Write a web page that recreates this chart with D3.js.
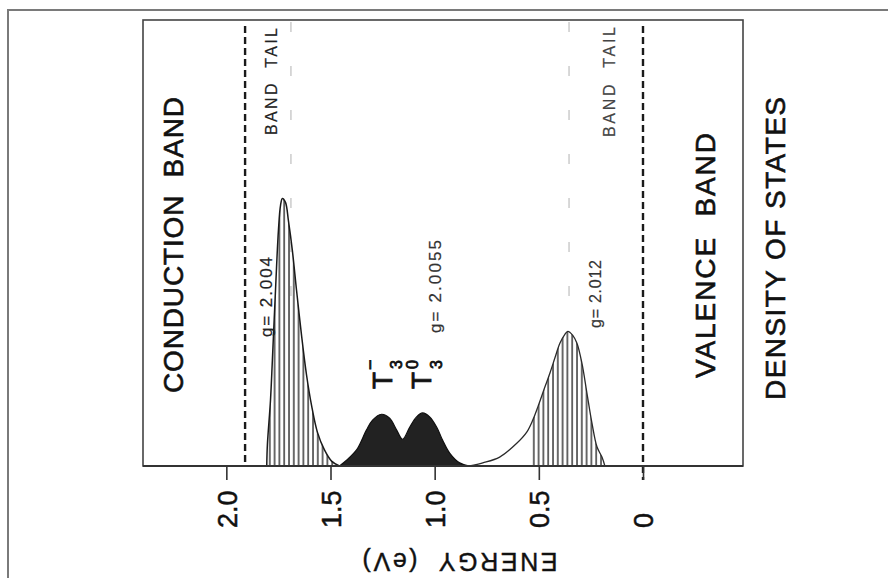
<!DOCTYPE html>
<html>
<head>
<meta charset="utf-8">
<script src="https://cdnjs.cloudflare.com/ajax/libs/d3/7.8.5/d3.min.js"></script>
<style>
  body { margin: 0; background: #fff; }
  svg { display: block; }
  text { font-family: "Liberation Sans", Arial, sans-serif; white-space: pre; }
</style>
</head>
<body>
<svg id="chart" width="888" height="578"></svg>
<script>
// energy axis ticks (eV)
var tickValues = [2.0, 1.5, 1.0, 0.5, 0]
var tickLabels = ["2.0", "1.5", "1.0", "0.5", "0"]

// band edges (thick dashed) and band tail guides (faint), eV
var bandEdges = [1.91, 0]
var tailGuides = [1.69, 0.355]

// conduction band tail states, g=2.004  (energy eV, density arb. units)
var condE = [1.806, 1.803, 1.788, 1.779, 1.764, 1.750, 1.740, 1.731, 1.716, 1.702, 1.683, 1.663, 1.639, 1.615, 1.591, 1.563, 1.529, 1.495, 1.457]
var condD = [0, 0.47, 1.48, 2.37, 3.94, 5.28, 5.84, 6.00, 5.91, 5.50, 4.83, 3.94, 2.93, 2.04, 1.36, 0.76, 0.36, 0.11, 0]

// T3- / T3 0 defect states, g=2.0055
var trapE = [1.457, 1.423, 1.375, 1.327, 1.298, 1.255, 1.216, 1.183, 1.154, 1.120, 1.087, 1.058, 1.024, 0.990, 0.962, 0.928, 0.880, 0.832]
var trapD = [0, 0.13, 0.36, 0.81, 1.03, 1.16, 1.07, 0.81, 0.60, 0.87, 1.10, 1.19, 1.10, 0.87, 0.58, 0.29, 0.07, 0]

// valence band tail states, g=2.012
var valE = [0.832, 0.769, 0.688, 0.606, 0.558, 0.529, 0.505, 0.471, 0.447, 0.423, 0.399, 0.375, 0.361, 0.337, 0.317, 0.293, 0.269, 0.245, 0.221, 0.197, 0.183]
var valD = [0, 0.07, 0.20, 0.51, 0.76, 1.03, 1.32, 1.77, 2.08, 2.42, 2.75, 2.95, 3.02, 2.93, 2.75, 2.30, 1.63, 0.96, 0.43, 0.20, 0]
var valHatchFrom = 0.54

var svg = d3.select("#chart")

var x = d3.scaleLinear().domain([2.4, -0.48]).range([143, 743])
var y = d3.scaleLinear().domain([0, 10]).range([466, 20])

function pts(es, ds) {
    return es.map(function (e, i) { return { e: e, d: ds[i] } })
}

// hatch pattern
var defs = svg.append("defs")
var pat = defs.append("pattern")
    .attr("id", "vhatch")
    .attr("patternUnits", "userSpaceOnUse")
    .attr("width", 4.8).attr("height", 20)
pat.append("line")
    .attr("x1", 1).attr("x2", 1).attr("y1", 0).attr("y2", 20)
    .attr("stroke", "#1a1a1a").attr("stroke-width", 1.3)

defs.append("clipPath").attr("id", "valclip")
    .append("rect")
    .attr("x", x(valHatchFrom)).attr("y", 0)
    .attr("width", 743 - x(valHatchFrom)).attr("height", 578)

// outer scan frame
svg.append("path")
    .attr("d", "M8,578V10H888")
    .attr("fill", "none").attr("stroke", "#7a7a7a").attr("stroke-width", 2)

// plot box
svg.append("rect")
    .attr("x", 143).attr("y", 20).attr("width", 600).attr("height", 446)
    .attr("fill", "none").attr("stroke", "#444").attr("stroke-width", 1.6)

var area = d3.area()
    .x(function (d) { return x(d.e) })
    .y0(y(0))
    .y1(function (d) { return y(d.d) })
    .curve(d3.curveCatmullRom.alpha(0.5))
var line = d3.line()
    .x(function (d) { return x(d.e) })
    .y(function (d) { return y(d.d) })
    .curve(d3.curveCatmullRom.alpha(0.5))

// faint band tail guides
svg.selectAll(".guide")
    .data(tailGuides)
    .enter().append("line")
    .attr("class", "guide")
    .attr("x1", function (d) { return x(d) }).attr("x2", function (d) { return x(d) })
    .attr("y1", 22).attr("y2", 330)
    .attr("stroke", "#cfcfcf").attr("stroke-width", 1.6)
    .attr("stroke-dasharray", "10 34")

// conduction band tail
var cond = pts(condE, condD)
svg.append("path").datum(cond).attr("d", area).attr("fill", "url(#vhatch)")
svg.append("path").datum(cond).attr("d", line)
    .attr("fill", "none").attr("stroke", "#1a1a1a").attr("stroke-width", 1.5)

// defect states
var trap = pts(trapE, trapD)
svg.append("path").datum(trap).attr("d", area)
    .attr("fill", "#222").attr("stroke", "#111").attr("stroke-width", 1.2)

// valence band tail
var val = pts(valE, valD)
svg.append("path").datum(val).attr("d", area)
    .attr("fill", "url(#vhatch)").attr("clip-path", "url(#valclip)")
svg.append("path").datum(val).attr("d", line)
    .attr("fill", "none").attr("stroke", "#2a2a2a").attr("stroke-width", 1.3)

// band edges
svg.selectAll(".edge")
    .data(bandEdges)
    .enter().append("line")
    .attr("class", "edge")
    .attr("x1", function (d) { return x(d) }).attr("x2", function (d) { return x(d) })
    .attr("y1", 26).attr("y2", function (d, i) { return i === 1 ? 480 : 466 })
    .attr("stroke", "#1a1a1a").attr("stroke-width", 2.4)
    .attr("stroke-dasharray", "7 4")

// baseline
svg.append("line")
    .attr("x1", 143).attr("x2", 743).attr("y1", 466).attr("y2", 466)
    .attr("stroke", "#333").attr("stroke-width", 2)

// energy axis
var axis = svg.append("g")
    .attr("transform", "translate(0,466)")
    .call(d3.axisBottom(x)
        .tickValues(tickValues)
        .tickSize(14)
        .tickFormat(function (d, i) { return tickLabels[i] }))
axis.select(".domain").remove()
axis.selectAll(".tick line").attr("stroke", "#333").attr("stroke-width", 1.6)
axis.selectAll(".tick text")
    .attr("transform", "rotate(-90)")
    .attr("x", -62).attr("y", 0).attr("dy", "0.36em")
    .attr("text-anchor", "start")
    .attr("font-size", 27).attr("font-family", "Liberation Sans, Arial, sans-serif")
    .attr("fill", "#111").attr("stroke", "#111").attr("stroke-width", 0.5)

// rotated labels
function vlabel(txt, bx, by, size, len, color, sw) {
    svg.append("text")
        .attr("transform", "translate(" + bx + "," + by + ") rotate(-90)")
        .attr("font-size", size)
        .attr("fill", color || "#111")
        .attr("stroke", color || "#111").attr("stroke-width", sw || 0)
        .attr("textLength", len).attr("lengthAdjust", "spacing")
        .text(txt)
}
vlabel("CONDUCTION  BAND", 183, 393, 28, 296, "#111", 0.6)
vlabel("VALENCE  BAND", 715, 378, 28, 245, "#111", 0.6)
vlabel("DENSITY OF STATES", 785, 400, 28, 303, "#111", 0.6)
vlabel("BAND  TAIL", 277, 135, 16, 107, "#222", 0.2)
vlabel("BAND  TAIL", 615, 137, 16, 110, "#444", 0.2)
vlabel("g= 2.004", 272, 337, 17, 80, "#222", 0.2)
vlabel("g= 2.0055", 441, 333, 17, 93, "#333", 0.2)
vlabel("g= 2.012", 601, 328, 16, 68, "#333", 0.2)

// T3- and T3 0 labels
function tlabel(txt, bx, by, size) {
    svg.append("text")
        .attr("transform", "translate(" + bx + "," + by + ") rotate(-90)")
        .attr("font-size", size)
        .attr("fill", "#111").attr("stroke", "#111").attr("stroke-width", 0.8)
        .text(txt)
}
tlabel("T", 392, 389, 28)
tlabel("3", 402, 369, 16)
tlabel("\u2212", 376, 370, 18)
tlabel("T", 431, 389, 28)
tlabel("0", 418, 369, 16)
tlabel("3", 442, 369, 16)

// energy title, upside down in the scan
svg.append("text")
    .attr("transform", "translate(460,553) rotate(180)")
    .attr("text-anchor", "middle")
    .attr("font-size", 25)
    .attr("fill", "#111").attr("stroke", "#111").attr("stroke-width", 0.4)
    .attr("textLength", 195).attr("lengthAdjust", "spacing")
    .text("ENERGY  (eV)")
</script>
</body>
</html>
